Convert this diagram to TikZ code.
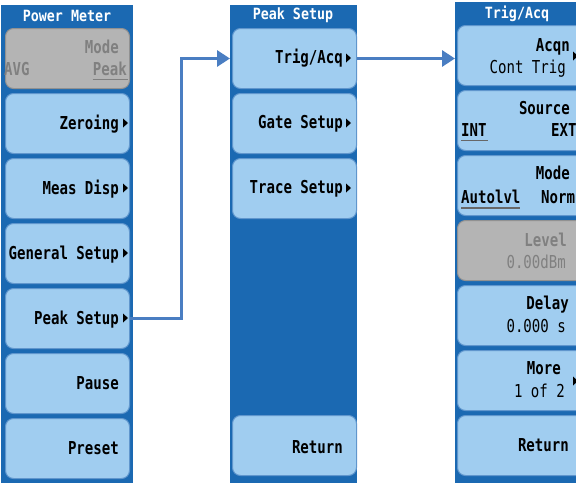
\documentclass[tikz,border=0pt]{standalone}
\usepackage{fontspec}
\usetikzlibrary{arrows.meta}
\newfontfamily\btnfont[FakeStretch=0.79]{DejaVu Sans Mono}
\newfontfamily\ttlfont[FakeStretch=0.86]{DejaVu Sans Mono}
\definecolor{panelblue}{RGB}{27,105,178}
\definecolor{btnblue}{RGB}{160,205,240}
\definecolor{btnedge}{RGB}{96,150,205}
\definecolor{btngray}{RGB}{180,180,180}
\definecolor{grayedge}{RGB}{145,145,145}
\definecolor{graytext}{RGB}{128,128,128}
\definecolor{arrowblue}{RGB}{74,126,194}
\newcommand\mytri[2]{\fill[black] (#1,#2-4.5) -- ++(5,4.5) -- ++(-5,4.5) -- cycle;}
\begin{document}
\begin{tikzpicture}[x=1pt,y=-1pt,
  panel/.style={fill=panelblue},
  btnbox/.style={draw=btnedge, fill=btnblue, rounded corners=8pt, line width=1pt,
    minimum width=124pt, minimum height=60pt, inner sep=0pt, anchor=north west},
  widebox/.style={btnbox, minimum width=140pt},
  graybox/.style={fill=btngray, draw=grayedge},
  ttl/.style={font=\ttlfont\fontsize{15.5}{17}\selectfont\bfseries, text=white, inner sep=0pt},
  lbl/.style={font=\btnfont\fontsize{17.8}{20}\selectfont\bfseries, text=black, inner sep=0pt, anchor=base east},
  lblw/.style={lbl, anchor=base west},
  val/.style={font=\btnfont\fontsize{17.8}{20}\selectfont, text=black, inner sep=0pt, anchor=base east},
  glbl/.style={lbl, text=graytext},
  conn/.style={draw=arrowblue, line width=3pt, -{Triangle[length=13pt,width=16pt]}},
  uline/.style={line width=1.3pt}
]
\useasboundingbox (0,0) rectangle (576,483);
\clip (0,0) rectangle (576,483);
% panels
\fill[panel] (1,5) rectangle (133,483);
\fill[panel] (230,5) rectangle (357,483);
\fill[panel] (455,2) rectangle (610,483);
% titles
\node[ttl] (t1) at (67,16) {Power Meter};
\node[ttl] (t2) at (293,15) {Peak Setup};
\node[ttl] (t3) at (517,14) {Trig/Acq};

% panel 1 buttons
\node[btnbox, graybox] (pm1) at (5,28) {};
\node[btnbox] (pm2) at (5,93) {};
\node[btnbox] (pm3) at (5,158) {};
\node[btnbox] (pm4) at (5,223) {};
\node[btnbox] (pm5) at (5,288) {};
\node[btnbox] (pm6) at (5,353) {};
\node[btnbox] (pm7) at (5,418) {};
\node[glbl] (l11) at (119,53.5) {Mode};
\node[glbl, anchor=base west] (l12) at (4,75) {AVG};
\node[glbl] (l13) at (127,75) {Peak};
\draw[uline, graytext] (l13.south west) ++(0,4) -- ++(35,0);
\node[lbl] (l2) at (119,129.5) {Zeroing}; \mytri{123}{123}
\node[lbl] (l3) at (119,194) {Meas Disp}; \mytri{123}{188}
\node[lbl] (l4) at (119,259) {General Setup}; \mytri{123}{253}
\node[lbl] (l5) at (119,324) {Peak Setup}; \mytri{123}{318}
\node[lbl] (l6) at (119,389) {Pause};
\node[lbl] (l7) at (119,454) {Preset};

% panel 2 buttons
\node[btnbox] (ps1) at (232,28) {};
\node[btnbox] (ps2) at (232,93) {};
\node[btnbox] (ps3) at (232,158) {};
\node[btnbox] (ps4) at (232,415) {};
\node[lbl] (m1) at (343,63.5) {Trig/Acq}; \mytri{346}{58}
\node[lbl] (m2) at (343,128.5) {Gate Setup}; \mytri{346}{123}
\node[lbl] (m3) at (343,193.5) {Trace Setup}; \mytri{346}{188}
\node[lbl] (m4) at (343,453.5) {Return};

% panel 3 buttons
\node[widebox] (ta1) at (457,25) {};
\node[widebox] (ta2) at (457,90) {};
\node[widebox] (ta3) at (457,155) {};
\node[widebox, graybox] (ta4) at (457,220) {};
\node[widebox] (ta5) at (457,285) {};
\node[widebox] (ta6) at (457,350) {};
\node[widebox] (ta7) at (457,415) {};
\node[lbl] (n11) at (570,51.5) {Acqn};
\node[val] (n12) at (566,73.5) {Cont Trig};
\mytri{573}{56}
\node[lbl] (n21) at (570,114.5) {Source};
\node[lblw] (n22) at (461,136.5) {INT};
\draw[uline, graytext!80!black] (n22.south west) ++(0,4) -- ++(27,0);
\node[lblw] (n23) at (551,136.5) {EXT};
\node[lbl] (n31) at (570,179.5) {Mode};
\node[lblw] (n32) at (461,203.5) {Autolvl};
\draw[uline, graytext!80!black] (n32.south west) ++(0,4) -- ++(59,0);
\node[lblw] (n33) at (541,203.5) {Norm};
\node[glbl] (n41) at (567,246.5) {Level};
\node[val, text=graytext] (n42) at (566,268.5) {0.00dBm};
\node[lbl] (n51) at (569,309.5) {Delay};
\node[val] (n52) at (566,332.5) {0.000 s};
\node[lbl] (n61) at (561,374.5) {More};
\node[val] (n62) at (565,397.5) {1 of 2};
\mytri{573}{381}
\node[lbl] (n71) at (569,451.5) {Return};

% connectors
\draw[conn] (pm5.east) -- ++(51,0) |- ([xshift=-2pt]ps1.west);
\draw[conn] (ps1.east) -- ([xshift=-2pt]ps1.east -| ta1.west);
\end{tikzpicture}
\end{document}
